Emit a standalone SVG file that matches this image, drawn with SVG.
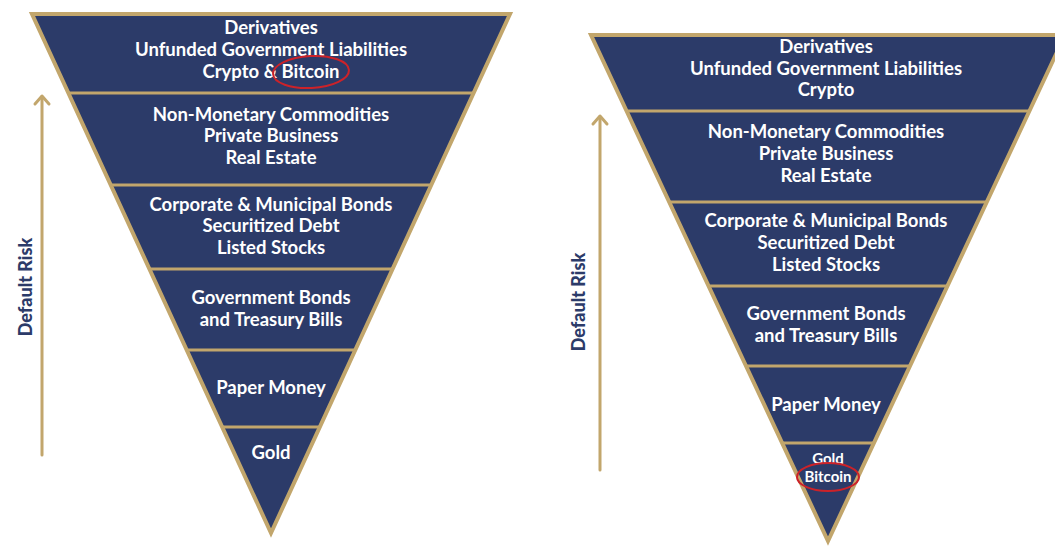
<svg xmlns="http://www.w3.org/2000/svg" width="1055" height="547" viewBox="0 0 1055 547">
<style>
.navy{fill:#2c3b69}
.border{fill:none;stroke:#c2a66c;stroke-width:4;stroke-linejoin:miter}
.sep{stroke:#c2a66c;stroke-width:3}
.t{font-family:Lato,"Open Sans",sans-serif;font-weight:bold;font-size:18.5px;fill:#ffffff;text-anchor:middle;dominant-baseline:central}
.ts{font-size:15px}
.axis{font-family:Lato,"Open Sans",sans-serif;font-weight:900;font-size:18px;fill:#2c3b69;text-anchor:middle;dominant-baseline:central}
.arrow{fill:none;stroke:#c2a66c;stroke-width:3;stroke-linecap:round;stroke-linejoin:round}
.ring{fill:none;stroke:#cc2229;stroke-width:2}
</style>
<rect width="1055" height="547" fill="#ffffff"/>

<g id="left-pyramid">
  <polygon class="navy" points="32,14 510,14 271,533"/>
  <line class="sep" x1="68" y1="93" x2="474" y2="93"/>
  <line class="sep" x1="111" y1="185" x2="431" y2="185"/>
  <line class="sep" x1="149" y1="269" x2="393" y2="269"/>
  <line class="sep" x1="187" y1="350" x2="355" y2="350"/>
  <line class="sep" x1="222" y1="427" x2="320" y2="427"/>
  <polygon class="border" points="32,14 510,14 271,533"/>
  <g id="left-tier1">
    <text class="t" x="271" y="27">Derivatives</text>
    <text class="t" x="271" y="49">Unfunded Government Liabilities</text>
    <text class="t" x="271" y="71">Crypto &amp; Bitcoin</text>
    <ellipse class="ring" cx="311" cy="72" rx="38" ry="16" transform="rotate(-3 311 72)"/>
  </g>
  <g id="left-tier2">
    <text class="t" x="271" y="114">Non-Monetary Commodities</text>
    <text class="t" x="271" y="135">Private Business</text>
    <text class="t" x="271" y="157">Real Estate</text>
  </g>
  <g id="left-tier3">
    <text class="t" x="271" y="204">Corporate &amp; Municipal Bonds</text>
    <text class="t" x="271" y="225">Securitized Debt</text>
    <text class="t" x="271" y="247">Listed Stocks</text>
  </g>
  <g id="left-tier4">
    <text class="t" x="271" y="297">Government Bonds</text>
    <text class="t" x="271" y="319">and Treasury Bills</text>
  </g>
  <g id="left-tier5">
    <text class="t" x="271" y="387">Paper Money</text>
  </g>
  <g id="left-tier6">
    <text class="t" x="271" y="452">Gold</text>
  </g>
</g>

<g id="right-pyramid">
  <polygon class="navy" points="591,35 1065,35 828,541"/>
  <line class="sep" x1="626" y1="111" x2="1030" y2="111"/>
  <line class="sep" x1="669" y1="202" x2="987" y2="202"/>
  <line class="sep" x1="708" y1="286" x2="948" y2="286"/>
  <line class="sep" x1="746" y1="366" x2="910" y2="366"/>
  <line class="sep" x1="782" y1="443" x2="874" y2="443"/>
  <polygon class="border" points="591,35 1065,35 828,541"/>
  <g id="right-tier1">
    <text class="t" x="826" y="46">Derivatives</text>
    <text class="t" x="826" y="68">Unfunded Government Liabilities</text>
    <text class="t" x="826" y="89">Crypto</text>
  </g>
  <g id="right-tier2">
    <text class="t" x="826" y="131">Non-Monetary Commodities</text>
    <text class="t" x="826" y="153">Private Business</text>
    <text class="t" x="826" y="175">Real Estate</text>
  </g>
  <g id="right-tier3">
    <text class="t" x="826" y="220">Corporate &amp; Municipal Bonds</text>
    <text class="t" x="826" y="242">Securitized Debt</text>
    <text class="t" x="826" y="264">Listed Stocks</text>
  </g>
  <g id="right-tier4">
    <text class="t" x="826" y="313">Government Bonds</text>
    <text class="t" x="826" y="335">and Treasury Bills</text>
  </g>
  <g id="right-tier5">
    <text class="t" x="826" y="404">Paper Money</text>
  </g>
  <g id="right-tier6">
    <text class="t ts" x="828" y="458">Gold</text>
    <text class="t ts" x="828" y="476">Bitcoin</text>
    <ellipse class="ring" cx="828" cy="477" rx="31" ry="14"/>
  </g>
</g>

<g id="connectors">
  <g id="left-axis">
    <line class="arrow" x1="42" y1="455" x2="42" y2="97"/>
    <polyline class="arrow" points="35,104 42,96 49,104"/>
  </g>
  <g id="right-axis">
    <line class="arrow" x1="600" y1="470" x2="600" y2="117"/>
    <polyline class="arrow" points="593,124 600,116 607,124"/>
  </g>
</g>

<g id="labels">
  <text class="axis" x="0" y="0" transform="translate(25 287) rotate(-90)">Default Risk</text>
  <text class="axis" x="0" y="0" transform="translate(578 302) rotate(-90)">Default Risk</text>
</g>
</svg>
